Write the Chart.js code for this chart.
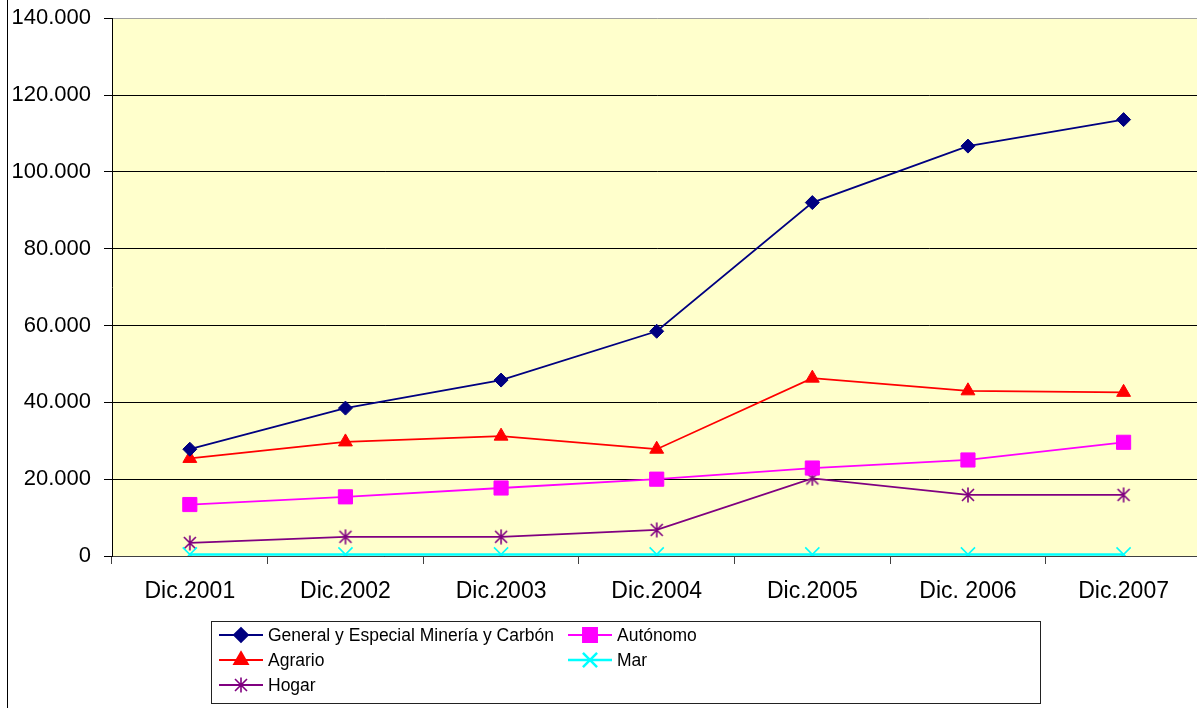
<!DOCTYPE html>
<html>
<head>
<meta charset="utf-8">
<script src="https://cdn.jsdelivr.net/npm/chart.js@4/dist/chart.umd.min.js"></script>
<style>
  html, body { margin: 0; padding: 0; background: #fff; overflow: hidden; width: 1197px; height: 708px; }
  #wrap { position: absolute; left: 0; top: -8px; width: 1213px; height: 716px; }
</style>
</head>
<body>
<div id="wrap"><canvas id="c" width="1213" height="716"></canvas></div>
<script>
const categories = ['Dic.2001', 'Dic.2002', 'Dic.2003', 'Dic.2004', 'Dic.2005', 'Dic. 2006', 'Dic.2007'];
const seriesNames = ['General y Especial Minería y Carbón', 'Autónomo', 'Agrario', 'Mar', 'Hogar'];
const generalValues = [27800, 38500, 45800, 58500, 92000, 106700, 113600];
const autonomoValues = [13400, 15400, 17700, 20000, 22900, 25000, 29600];
const agrarioValues = [25400, 29700, 31200, 27800, 46300, 43000, 42600];
const marValues = [400, 400, 400, 400, 400, 400, 400];
const hogarValues = [3400, 5000, 5000, 6800, 20200, 15900, 15900];
const yTickMax = 140000;
const yTickStep = 20000;

const OY = 8; // canvas is shifted up by this many pixels

function makeAsterisk(color) {
  const cv = document.createElement('canvas');
  cv.width = 16; cv.height = 16;
  const g = cv.getContext('2d');
  g.strokeStyle = color;
  g.lineWidth = 1.6;
  g.beginPath();
  g.moveTo(2, 2); g.lineTo(14, 14);
  g.moveTo(14, 2); g.lineTo(2, 14);
  g.moveTo(8, 0.5); g.lineTo(8, 15.5);
  g.stroke();
  return cv;
}

const FONT = "'Liberation Sans', Arial, sans-serif";

const datasets = [
  { label: seriesNames[0], data: generalValues, borderColor: '#000080', backgroundColor: '#000080',
    pointStyle: 'rectRot', pointRadius: 7, pointBorderWidth: 1, borderWidth: 1.8 },
  { label: seriesNames[1], data: autonomoValues, borderColor: '#FF00FF', backgroundColor: '#FF00FF',
    pointStyle: 'rect', pointRadius: 10, pointBorderWidth: 1, borderWidth: 1.8 },
  { label: seriesNames[2], data: agrarioValues, borderColor: '#FF0000', backgroundColor: '#FF0000',
    pointStyle: 'triangle', pointRadius: 8, pointBorderWidth: 1, borderWidth: 1.8 },
  { label: seriesNames[3], data: marValues, borderColor: '#00FFFF', backgroundColor: '#00FFFF',
    pointStyle: 'crossRot', pointRadius: 10, pointBorderWidth: 1.6, borderWidth: 2.5 },
  { label: seriesNames[4], data: hogarValues, borderColor: '#800080', backgroundColor: '#800080',
    pointStyle: makeAsterisk('#800080'), pointRadius: 8, pointBorderWidth: 1, borderWidth: 1.8 }
];
datasets.forEach(d => { d.tension = 0; d.fill = false; d.pointHoverRadius = d.pointRadius; });

const bgPlugin = {
  id: 'bg',
  beforeDraw(chart) {
    const { ctx, chartArea: a } = chart;
    ctx.save();
    ctx.fillStyle = '#FFFFCC';
    ctx.fillRect(a.left, a.top, a.right - a.left, a.bottom - a.top);
    ctx.restore();
  },
  afterDraw(chart) {
    const ctx = chart.ctx;
    ctx.save();
    ctx.strokeStyle = '#000';
    ctx.lineWidth = 1;
    ctx.beginPath();
    ctx.moveTo(7.5, 0); ctx.lineTo(7.5, 716);
    ctx.stroke();
    ctx.strokeStyle = '#222';
    ctx.strokeRect(211.5, 621.5 + OY, 829, 82);
    const cols = [{ lx: 219, mx: 241, tx: 268 }, { lx: 568, mx: 590, tx: 617 }];
    const rows = [635, 660, 685];
    ctx.font = '17.5px ' + FONT;
    ctx.textBaseline = 'middle';
    ctx.textAlign = 'left';
    chart.data.datasets.forEach((ds, i) => {
      const c = cols[i % 2], y = rows[Math.floor(i / 2)] + OY;
      ctx.strokeStyle = ds.borderColor;
      ctx.lineWidth = ds.borderWidth;
      ctx.beginPath();
      ctx.moveTo(c.lx, y); ctx.lineTo(c.lx + 44, y);
      ctx.stroke();
      ctx.fillStyle = ds.backgroundColor;
      Chart.helpers.drawPoint(ctx, { pointStyle: ds.pointStyle, radius: ds.pointRadius, rotation: 0, borderWidth: ds.pointBorderWidth }, c.mx, y);
      ctx.fillStyle = '#000';
      ctx.fillText(ds.label, c.tx, y + 1);
    });
    ctx.restore();
  }
};

new Chart(document.getElementById('c'), {
  type: 'line',
  data: { labels: categories, datasets },
  plugins: [bgPlugin],
  options: {
    responsive: false,
    animation: false,
    devicePixelRatio: 1,
    layout: { padding: 0 },
    plugins: { legend: { display: false }, tooltip: { enabled: false }, title: { display: false } },
    scales: {
      x: {
        offset: true,
        grid: { offset: true, drawOnChartArea: false, drawTicks: true, tickLength: 8, color: '#404040', tickColor: '#404040' },
        border: { color: '#404040', width: 1 },
        ticks: { color: '#000', font: { family: FONT, size: 23 }, padding: 14, maxRotation: 0, autoSkip: false },
        afterFit(s) { s.height = 716 - 564; }
      },
      y: {
        min: 0, max: yTickMax,
        grid: {
          color: c => (c.tick && c.tick.value === yTickMax) ? '#a0a0a0' : '#000',
          tickColor: '#000', tickLength: 8, lineWidth: 1
        },
        border: { color: '#000', width: 1 },
        ticks: {
          stepSize: yTickStep, color: '#000', padding: 13,
          font: { family: FONT, size: 22 },
          callback: v => v.toLocaleString('de-DE')
        },
        afterFit(s) { s.width = 112; }
      }
    }
  }
});
</script>
</body>
</html>
